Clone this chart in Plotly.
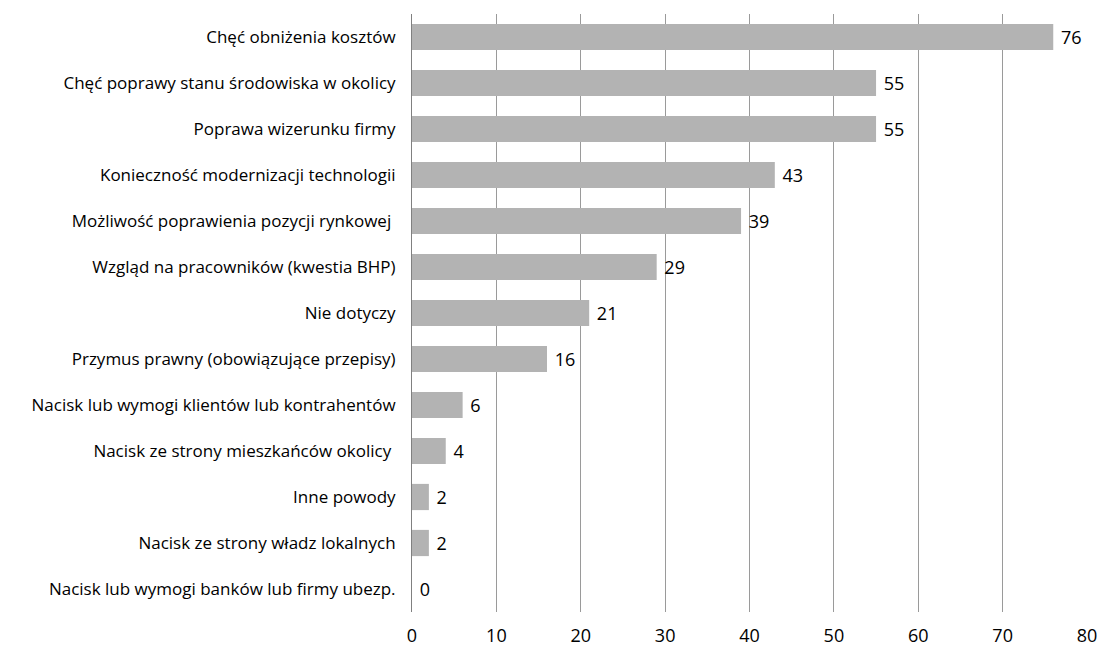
import plotly.graph_objects as go

categories = [
    "Chęć obniżenia kosztów",
    "Chęć poprawy stanu środowiska w okolicy",
    "Poprawa wizerunku firmy",
    "Konieczność modernizacji technologii",
    "Możliwość poprawienia pozycji rynkowej ",
    "Wzgląd na pracowników (kwestia BHP)",
    "Nie dotyczy",
    "Przymus prawny (obowiązujące przepisy)",
    "Nacisk lub wymogi klientów lub kontrahentów",
    "Nacisk ze strony mieszkańców okolicy ",
    "Inne powody",
    "Nacisk ze strony władz lokalnych",
    "Nacisk lub wymogi banków lub firmy ubezp.",
]
values = [76, 55, 55, 43, 39, 29, 21, 16, 6, 4, 2, 2, 0]
x_ticks = [0, 10, 20, 30, 40, 50, 60, 70, 80]

FONT = "'Open Sans', Lato, sans-serif"

fig = go.Figure(go.Bar(
    x=values,
    y=categories,
    orientation="h",
    marker=dict(color="#B3B3B3", line=dict(width=0)),
    text=[" " + str(v) for v in values],
    textposition="outside",
    textfont=dict(family=FONT, size=18, color="#000000"),
    cliponaxis=False,
))

fig.update_layout(
    width=1102,
    height=655,
    margin=dict(l=412, r=15, t=14, b=43),
    paper_bgcolor="white",
    plot_bgcolor="white",
    bargap=0.43,
    showlegend=False,
    font=dict(family=FONT, color="#000000"),
    xaxis=dict(
        range=[0, 80],
        tickvals=x_ticks,
        showgrid=True,
        gridcolor="#9A9A9A",
        gridwidth=1,
        zeroline=False,
        showline=False,
        tickfont=dict(size=18),
        ticks="",
        ticklen=0,
        ticklabelstandoff=11,
        automargin=False,
    ),
    yaxis=dict(
        autorange="reversed",
        showline=True,
        linecolor="#808080",
        linewidth=1,
        ticks="",
        tickfont=dict(size=17),
        ticklabelstandoff=12,
        automargin=False,
    ),
)

fig.write_html("out.html")
